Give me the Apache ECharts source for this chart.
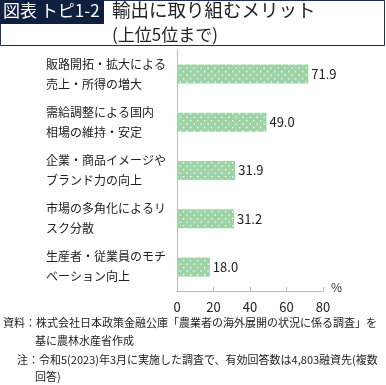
<!DOCTYPE html>
<html>
<head>
<meta charset="utf-8">
<script src="https://cdn.jsdelivr.net/npm/echarts@6/dist/echarts.min.js"></script>
<style>
html, body { margin: 0; padding: 0; background: #fff; }
#chart { width: 386px; height: 385px; }
</style>
</head>
<body>
<div id="chart"></div>
<script>
// 輸出に取り組むメリット（上位5位まで）
const categories = [
    '販路開拓・拡大による\n売上・所得の増大',
    '需給調整による国内\n相場の維持・安定',
    '企業・商品イメージや\nブランド力の向上',
    '市場の多角化によるリ\nスク分散',
    '生産者・従業員のモチ\nベーション向上'
];
const values = [71.9, 49.0, 31.9, 31.2, 18.0];
const xTicks = [0, 20, 40, 60, 80];

const FONT = '"Noto Sans CJK JP", "Noto Sans", sans-serif';

// 水玉模様
function dotPattern() {
    const c = document.createElement('canvas');
    c.width = 7; c.height = 7;
    const ctx = c.getContext('2d');
    ctx.fillStyle = '#9ed3a5';
    ctx.fillRect(0, 0, 7, 7);
    ctx.fillStyle = '#ffffff';
    ctx.fillRect(1, 1, 1.3, 1.3);
    ctx.fillRect(4.5, 4.5, 1.3, 1.3);
    return c;
}

const myChart = echarts.init(document.getElementById('chart'));
const option = {
    animation: false,
    textStyle: { fontFamily: FONT },
    grid: { left: 177, right: 63, top: 50, bottom: 94 },
    graphic: [
        { type: 'rect', shape: { x: 0.5, y: 0.5, width: 384, height: 45 }, style: { fill: 'none', stroke: '#1f2f5c', lineWidth: 1 } },
        { type: 'rect', shape: { x: 0, y: 0, width: 104, height: 24 }, style: { fill: '#0e1f3f' } },
        { type: 'text', left: 3, top: 2, style: { text: '図表 トピ1-2', fill: '#fff', font: '17px ' + FONT } },
        { type: 'text', left: 112, top: 1, style: { text: '輸出に取り組むメリット', fill: '#222', font: '18.5px ' + FONT } },
        { type: 'text', left: 112, top: 26, style: { text: '(上位5位まで)', fill: '#222', font: '17px ' + FONT } },
        { type: 'text', left: 3, top: 317, style: { text: '資料：株式会社日本政策金融公庫「農業者の海外展開の状況に係る調査」を', fill: '#222', font: '11px ' + FONT } },
        { type: 'text', left: 35, top: 335, style: { text: '基に農林水産省作成', fill: '#222', font: '11px ' + FONT } },
        { type: 'text', left: 17, top: 354, style: { text: '注：令和5(2023)年3月に実施した調査で、有効回答数は4,803融資先(複数', fill: '#222', font: '11px ' + FONT } },
        { type: 'text', left: 35, top: 371, style: { text: '回答)', fill: '#222', font: '11px ' + FONT } }
    ],
    xAxis: {
        type: 'value',
        min: 0,
        max: 80,
        interval: 20,
        name: '%',
        nameLocation: 'end',
        nameGap: 8,
        nameTextStyle: { color: '#333', fontSize: 12, verticalAlign: 'bottom', padding: [0, 0, -2, 0] },
        axisLine: { show: true, lineStyle: { color: '#bdbdbd' } },
        axisTick: { show: true, inside: true, length: 4, lineStyle: { color: '#bdbdbd' } },
        axisLabel: { color: '#222', fontSize: 13, margin: 10, formatter: v => xTicks.includes(v) ? String(v) : '' },
        splitLine: { show: false }
    },
    yAxis: {
        type: 'category',
        inverse: true,
        data: categories,
        axisLine: { show: true, lineStyle: { color: '#bdbdbd' } },
        axisTick: { show: false },
        axisLabel: { color: '#222', fontSize: 12, lineHeight: 20, align: 'left', margin: 131, padding: [0, 0, 4, 0] }
    },
    series: [{
        type: 'bar',
        data: values,
        barWidth: 19,
        itemStyle: { color: { image: dotPattern(), repeat: 'repeat' } },
        label: {
            show: true,
            position: 'right',
            distance: 3,
            color: '#222',
            fontSize: 13,
            formatter: p => p.value.toFixed(1)
        }
    }]
};
myChart.setOption(option);
window.addEventListener('resize', () => {
    myChart.resize()
})
</script>
</body>
</html>
